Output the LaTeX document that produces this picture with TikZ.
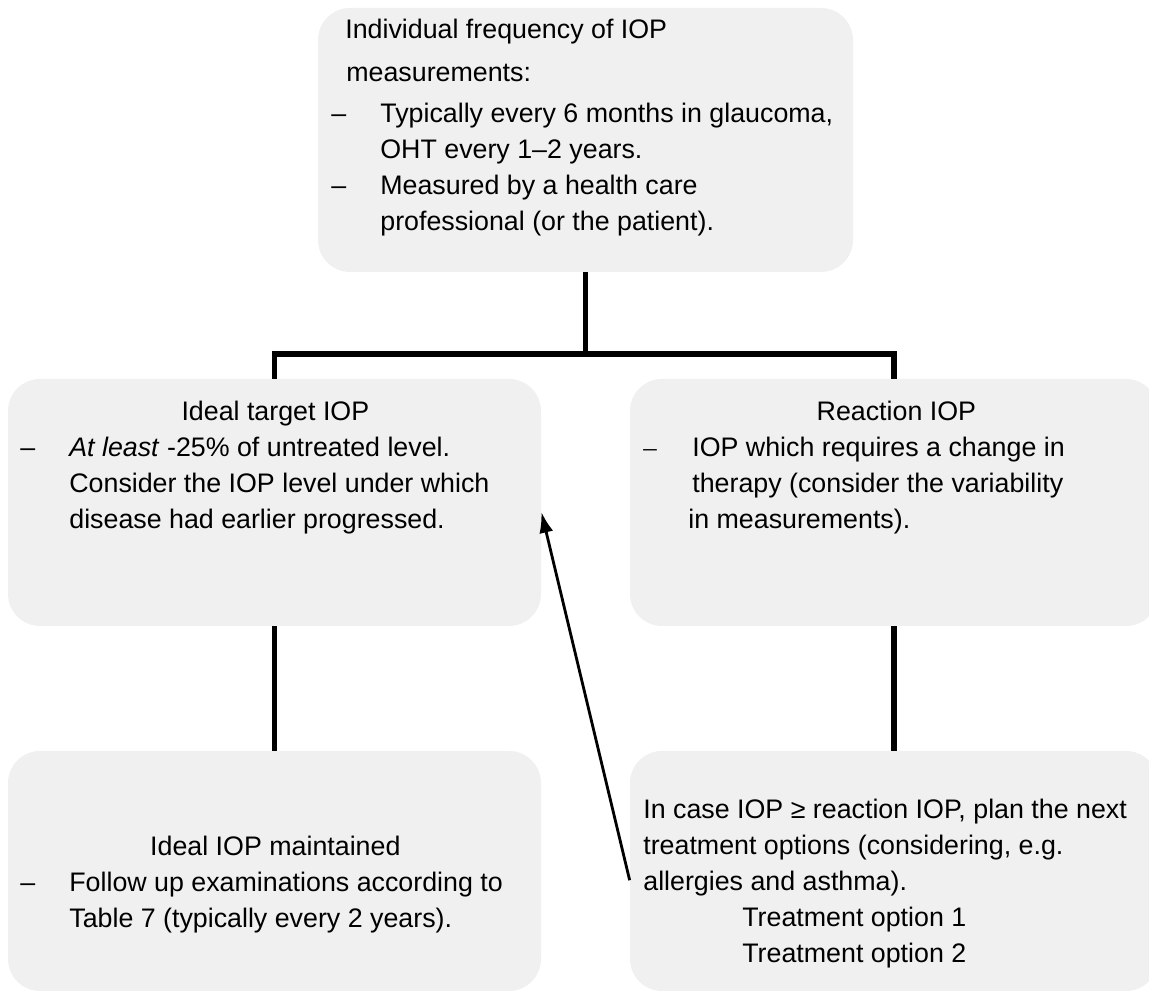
\documentclass[tikz,border=0pt]{standalone}
\usepackage{fontspec}
\setmainfont{Liberation Sans}
\newfontfamily\dashfont{Liberation Serif}
\usetikzlibrary{positioning,arrows.meta}

\definecolor{boxgrey}{RGB}{240,240,240}
\newcommand{\itm}{\makebox[0.98cm][l]{–}}
\newcommand{\ind}{\hspace*{0.98cm}}

\begin{document}
\begin{tikzpicture}[
    box/.style={fill=boxgrey, rounded corners=0.64cm, inner sep=0pt},
    txt/.style={anchor=north west, align=left, inner sep=0pt, font=\fontsize{15.25}{20.5}\selectfont},
    link/.style={line width=3pt},
    back/.style={line width=1.6pt, -{Latex[length=0.42cm, width=0.28cm]}}]
  \useasboundingbox (0,0) rectangle (22.98,19.84);
  % boxes
  \node[box, minimum width=10.70cm, minimum height=5.28cm] (freq) at (11.71,17.04) {};
  \node[box, minimum width=10.66cm, minimum height=4.94cm] (ideal) at (5.49,9.79) {};
  \node[box, minimum width=10.56cm, minimum height=4.94cm] (react) at (17.88,9.79) {};
  \node[box, minimum width=10.66cm, minimum height=4.80cm] (kept) at (5.49,2.42) {};
  \node[box, minimum width=10.56cm, minimum height=4.80cm] (plan) at (17.88,2.42) {};
  % texts
  \node[txt] (freqtxt) at (6.62,19.46) {\hspace*{0.28cm}Individual frequency of IOP\\[0.14cm]
    \hspace*{0.30cm}measurements:\\[0.10cm]
    \itm Typically every 6 months in glaucoma,\\
    \ind OHT every 1–2 years.\\
    \itm Measured by a health care\\
    \ind professional (or the patient).};
  \node[txt] (idealtxt) at (0.40,11.82) {\makebox[10.2cm][c]{Ideal target IOP}\\
    \itm\textit{At least} -25\% of untreated level.\\
    \ind Consider the IOP level under which\\
    \ind disease had earlier progressed.};
  \node[txt] (reacttxt) at (12.86,11.82) {\makebox[10.12cm][c]{Reaction IOP}\\
    \makebox[0.98cm][l]{\dashfont –}IOP which requires a change in\\
    \ind therapy (consider the variability\\
    \hspace*{0.90cm}in measurements).};
  \node[txt] (kepttxt) at (0.40,3.12) {\makebox[10.2cm][c]{Ideal IOP maintained}\\
    \itm Follow up examinations according to\\
    \ind Table 7 (typically every 2 years).};
  \node[txt] (plantxt) at (12.86,3.86) {In case IOP ≥ reaction IOP, plan the next\\
    treatment options (considering, e.g.\\
    allergies and asthma).\\
    \hspace*{1.98cm}Treatment option 1\\
    \hspace*{1.98cm}Treatment option 2};
  % connectors
  \coordinate (split) at (11.71,12.76);
  \draw[link] (freq.south) -- (split);
  \draw[link] (ideal.north) |- (split) -| (react.north);
  \draw[link] (ideal.south) -- (kept.north);
  \draw[link] (react.south) -- (plan.north);
  \draw[back] (plan.182.4) -- (ideal.-2.7);
\end{tikzpicture}
\end{document}
